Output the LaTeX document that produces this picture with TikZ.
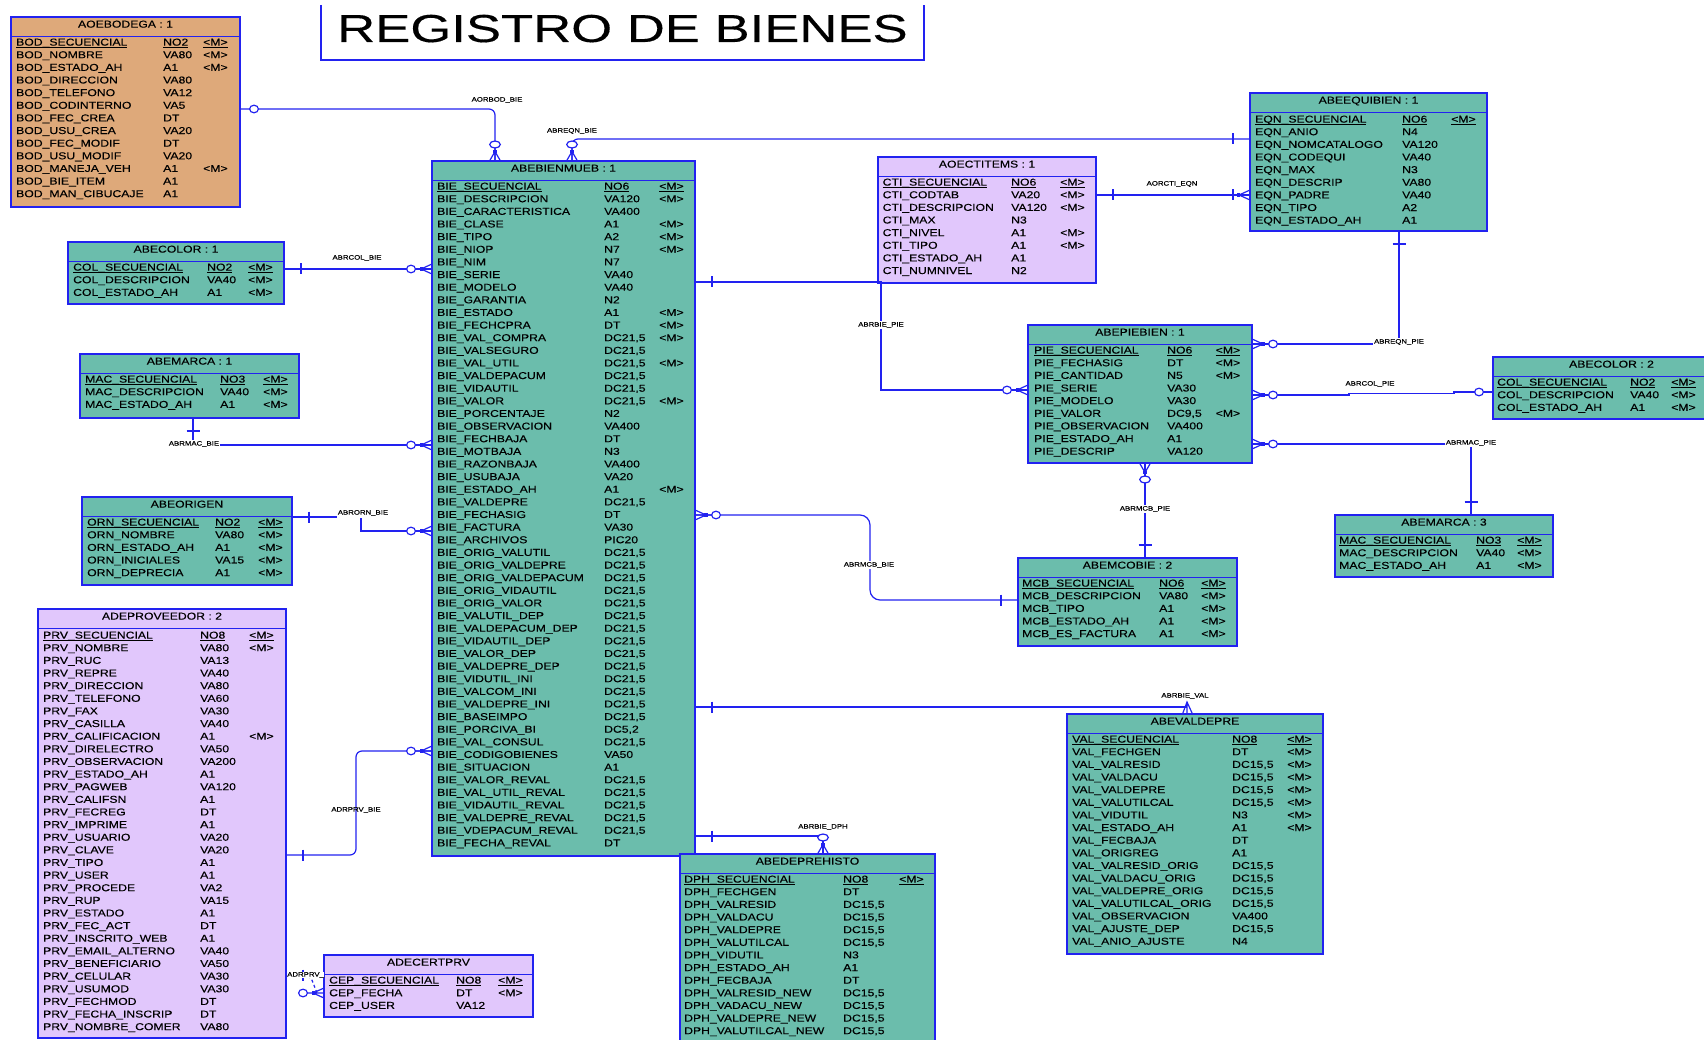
\documentclass[tikz,border=0pt]{standalone}
\usepackage{fontspec}
\usetikzlibrary{positioning}
\newfontfamily\erdfont[FakeStretch=1.22,FakeBold=0.2]{Liberation Sans}
\newfontfamily\bigfont[FakeStretch=1.35,FakeBold=0.3]{Liberation Sans}
\catcode`\_=12
\definecolor{tealbox}{HTML}{6BBDAC}
\definecolor{orangebox}{HTML}{DEA97A}
\definecolor{lilacbox}{HTML}{E1C7FC}
\definecolor{erdblue}{HTML}{2222F0}
\tikzset{
  entbox/.style={draw=erdblue,line width=1.5pt,inner sep=0pt,outer sep=0pt},
  tealfill/.style={fill=tealbox},
  orangefill/.style={fill=orangebox},
  lilacfill/.style={fill=lilacbox},
  relline/.style={draw=erdblue,line width=1.2pt,rounded corners=6pt},
  enttitle/.style={anchor=base,inner sep=0pt,text=black,font=\erdfont\fontsize{10}{12}\selectfont},
  fieldtxt/.style={anchor=base west,inner sep=0pt,text=black,font=\erdfont\fontsize{10}{12}\selectfont},
  rellabel/.style={fill=white,inner sep=1pt,text=black,font=\erdfont\fontsize{6.4}{7}\selectfont},
}
\newcommand{\mflag}{<M>}
\newcommand{\ulrow}[1]{\underline{\smash{#1}}}
% name, x1, y1, x2, y2, fill style, title
\newcommand{\ent}[7]{
  \node[entbox,#6,anchor=north west,minimum width={(#4-#2)*1pt},minimum height={(#5-#3)*1pt}] (#1) at (#2,#3) {};
  \draw[draw=erdblue,line width=1.3pt] (#2,{#3+19.7}) -- (#4,{#3+19.7});
  \node[enttitle] (#1t) at ({(#2+#4)/2},{#3+10.6}) {#7};
}
% name, x of field, x of type, x of flag, y of first row, rows
\newcommand{\fields}[6]{
  \foreach \fname/\ftype/\fflag [count=\i from 0] in {#6} {
    \node[fieldtxt] (#1\i a) at (#2,{#5+3.6+\i*12.63}) {\ifnum\i=0 \ulrow{\fname}\else\fname\fi};
    \node[fieldtxt] (#1\i b) at (#3,{#5+3.6+\i*12.63}) {\ifnum\i=0 \ulrow{\ftype}\else\ftype\fi};
    \ifx\fflag\empty\else
      \node[fieldtxt] (#1\i c) at (#4,{#5+3.6+\i*12.63}) {\ifnum\i=0 \ulrow{\fflag}\else\fflag\fi};
    \fi
  }
}
% crow's feet: point on the box edge, side (1 or -1)
\newcommand{\crowh}[2]{
  \begin{scope}[shift={(#1)},xscale=#2]
    \draw[relline,rounded corners=0pt] (0,-5) -- (11,0) -- (0,5) (0,0) -- (17,0);
    \fill[erdblue] (9,-1.6) rectangle (12.5,1.6);
    \draw[relline,fill=white] (21,0) ellipse [x radius=4.4pt,y radius=3.8pt];
  \end{scope}
}
\newcommand{\crowv}[2]{
  \begin{scope}[shift={(#1)},yscale=#2]
    \draw[relline,rounded corners=0pt] (-5.5,0) -- (0,9.5) -- (5.5,0) (0,0) -- (0,13);
    \fill[erdblue] (-1.6,7.5) rectangle (1.6,11);
    \draw[relline,fill=white] (0,16.5) ellipse [x radius=5.3pt,y radius=3.5pt];
  \end{scope}
}
\newcommand{\ringh}[2]{
  \begin{scope}[shift={(#1)},xscale=#2]
    \draw[relline,fill=white] (14,0) ellipse [x radius=4.4pt,y radius=3.8pt];
  \end{scope}
}
\newcommand{\barh}[2]{
  \begin{scope}[shift={(#1)},xscale=#2]
    \draw[relline] (17,-5.5) -- (17,5.5);
  \end{scope}
}
\newcommand{\barv}[2]{
  \begin{scope}[shift={(#1)},yscale=#2]
    \draw[relline] (-6.5,13) -- (6.5,13);
  \end{scope}
}
\begin{document}
\begin{tikzpicture}[x=1pt,y=-1pt]
\clip (0,0) rectangle (1704,1040);

\node[anchor=base west,inner sep=0pt,font=\bigfont\fontsize{39}{40}\selectfont] (titulo) at (337,42) {REGISTRO DE BIENES};
\coordinate (tl) at (321,5);
\coordinate (tr) at (924,5);
\draw[draw=erdblue,line width=1.2pt] (tl) -- (321,60) -- (924,60) -- (tr);

% tables
\ent{bod}{11}{17}{240}{207}{orangefill}{AOEBODEGA : 1}
\fields{bod}{16}{163}{203}{42}{BOD_SECUENCIAL/NO2/\mflag,BOD_NOMBRE/VA80/\mflag,BOD_ESTADO_AH/A1/\mflag,BOD_DIRECCION/VA80/,BOD_TELEFONO/VA12/,BOD_CODINTERNO/VA5/,BOD_FEC_CREA/DT/,BOD_USU_CREA/VA20/,BOD_FEC_MODIF/DT/,BOD_USU_MODIF/VA20/,BOD_MANEJA_VEH/A1/\mflag,BOD_BIE_ITEM/A1/,BOD_MAN_CIBUCAJE/A1/}

\ent{col}{68}{242}{284}{304}{tealfill}{ABECOLOR : 1}
\fields{col}{73}{207}{248}{267}{COL_SECUENCIAL/NO2/\mflag,COL_DESCRIPCION/VA40/\mflag,COL_ESTADO_AH/A1/\mflag}

\ent{mar}{80}{354}{299}{418}{tealfill}{ABEMARCA : 1}
\fields{mar}{85}{220}{263}{379}{MAC_SECUENCIAL/NO3/\mflag,MAC_DESCRIPCION/VA40/\mflag,MAC_ESTADO_AH/A1/\mflag}

\ent{ori}{82}{497}{292}{585}{tealfill}{ABEORIGEN}
\fields{ori}{87}{215}{258}{522}{ORN_SECUENCIAL/NO2/\mflag,ORN_NOMBRE/VA80/\mflag,ORN_ESTADO_AH/A1/\mflag,ORN_INICIALES/VA15/\mflag,ORN_DEPRECIA/A1/\mflag}

\ent{prv}{38}{609}{286}{1038}{lilacfill}{ADEPROVEEDOR : 2}
\fields{prv}{43}{200}{249}{635}{PRV_SECUENCIAL/NO8/\mflag,PRV_NOMBRE/VA80/\mflag,PRV_RUC/VA13/,PRV_REPRE/VA40/,PRV_DIRECCION/VA80/,PRV_TELEFONO/VA60/,PRV_FAX/VA30/,PRV_CASILLA/VA40/,PRV_CALIFICACION/A1/\mflag,PRV_DIRELECTRO/VA50/,PRV_OBSERVACION/VA200/,PRV_ESTADO_AH/A1/,PRV_PAGWEB/VA120/,PRV_CALIFSN/A1/,PRV_FECREG/DT/,PRV_IMPRIME/A1/,PRV_USUARIO/VA20/,PRV_CLAVE/VA20/,PRV_TIPO/A1/,PRV_USER/A1/,PRV_PROCEDE/VA2/,PRV_RUP/VA15/,PRV_ESTADO/A1/,PRV_FEC_ACT/DT/,PRV_INSCRITO_WEB/A1/,PRV_EMAIL_ALTERNO/VA40/,PRV_BENEFICIARIO/VA50/,PRV_CELULAR/VA30/,PRV_USUMOD/VA30/,PRV_FECHMOD/DT/,PRV_FECHA_INSCRIP/DT/,PRV_NOMBRE_COMER/VA80/}

\ent{cep}{324}{955}{533}{1017}{lilacfill}{ADECERTPRV}
\fields{cep}{329}{456}{498}{980}{CEP_SECUENCIAL/NO8/\mflag,CEP_FECHA/DT/\mflag,CEP_USER/VA12/}

\ent{bien}{432}{161}{695}{856}{tealfill}{ABEBIENMUEB : 1}
\fields{bien}{437}{604}{659}{186}{BIE_SECUENCIAL/NO6/\mflag,BIE_DESCRIPCION/VA120/\mflag,BIE_CARACTERISTICA/VA400/,BIE_CLASE/A1/\mflag,BIE_TIPO/A2/\mflag,BIE_NIOP/N7/\mflag,BIE_NIM/N7/,BIE_SERIE/VA40/,BIE_MODELO/VA40/,BIE_GARANTIA/N2/,BIE_ESTADO/A1/\mflag,BIE_FECHCPRA/DT/\mflag,BIE_VAL_COMPRA/DC21{,}5/\mflag,BIE_VALSEGURO/DC21{,}5/,BIE_VAL_UTIL/DC21{,}5/\mflag,BIE_VALDEPACUM/DC21{,}5/,BIE_VIDAUTIL/DC21{,}5/,BIE_VALOR/DC21{,}5/\mflag,BIE_PORCENTAJE/N2/,BIE_OBSERVACION/VA400/,BIE_FECHBAJA/DT/,BIE_MOTBAJA/N3/,BIE_RAZONBAJA/VA400/,BIE_USUBAJA/VA20/,BIE_ESTADO_AH/A1/\mflag,BIE_VALDEPRE/DC21{,}5/,BIE_FECHASIG/DT/,BIE_FACTURA/VA30/,BIE_ARCHIVOS/PIC20/,BIE_ORIG_VALUTIL/DC21{,}5/,BIE_ORIG_VALDEPRE/DC21{,}5/,BIE_ORIG_VALDEPACUM/DC21{,}5/,BIE_ORIG_VIDAUTIL/DC21{,}5/,BIE_ORIG_VALOR/DC21{,}5/,BIE_VALUTIL_DEP/DC21{,}5/,BIE_VALDEPACUM_DEP/DC21{,}5/,BIE_VIDAUTIL_DEP/DC21{,}5/,BIE_VALOR_DEP/DC21{,}5/,BIE_VALDEPRE_DEP/DC21{,}5/,BIE_VIDUTIL_INI/DC21{,}5/,BIE_VALCOM_INI/DC21{,}5/,BIE_VALDEPRE_INI/DC21{,}5/,BIE_BASEIMPO/DC21{,}5/,BIE_PORCIVA_BI/DC5{,}2/,BIE_VAL_CONSUL/DC21{,}5/,BIE_CODIGOBIENES/VA50/,BIE_SITUACION/A1/,BIE_VALOR_REVAL/DC21{,}5/,BIE_VAL_UTIL_REVAL/DC21{,}5/,BIE_VIDAUTIL_REVAL/DC21{,}5/,BIE_VALDEPRE_REVAL/DC21{,}5/,BIE_VDEPACUM_REVAL/DC21{,}5/,BIE_FECHA_REVAL/DT/}

\ent{cti}{878}{157}{1096}{283}{lilacfill}{AOECTITEMS : 1}
\fields{cti}{882.5}{1011}{1060}{182}{CTI_SECUENCIAL/NO6/\mflag,CTI_CODTAB/VA20/\mflag,CTI_DESCRIPCION/VA120/\mflag,CTI_MAX/N3/,CTI_NIVEL/A1/\mflag,CTI_TIPO/A1/\mflag,CTI_ESTADO_AH/A1/,CTI_NUMNIVEL/N2/}

\ent{eqn}{1250}{93}{1487}{231}{tealfill}{ABEEQUIBIEN : 1}
\fields{eqn}{1255}{1402}{1451}{119}{EQN_SECUENCIAL/NO6/\mflag,EQN_ANIO/N4/,EQN_NOMCATALOGO/VA120/,EQN_CODEQUI/VA40/,EQN_MAX/N3/,EQN_DESCRIP/VA80/,EQN_PADRE/VA40/,EQN_TIPO/A2/,EQN_ESTADO_AH/A1/}

\ent{pie}{1028}{325}{1252}{463}{tealfill}{ABEPIEBIEN : 1}
\fields{pie}{1034}{1167}{1215.5}{350}{PIE_SECUENCIAL/NO6/\mflag,PIE_FECHASIG/DT/\mflag,PIE_CANTIDAD/N5/\mflag,PIE_SERIE/VA30/,PIE_MODELO/VA30/,PIE_VALOR/DC9{,}5/\mflag,PIE_OBSERVACION/VA400/,PIE_ESTADO_AH/A1/,PIE_DESCRIP/VA120/}

\ent{colb}{1493}{357}{1730}{419}{tealfill}{ABECOLOR : 2}
\fields{colb}{1497}{1630}{1671}{382}{COL_SECUENCIAL/NO2/\mflag,COL_DESCRIPCION/VA40/\mflag,COL_ESTADO_AH/A1/\mflag}

\ent{marb}{1335}{515}{1553}{577}{tealfill}{ABEMARCA : 3}
\fields{marb}{1339}{1476}{1517}{540}{MAC_SECUENCIAL/NO3/\mflag,MAC_DESCRIPCION/VA40/\mflag,MAC_ESTADO_AH/A1/\mflag}

\ent{mcb}{1018}{558}{1237}{646}{tealfill}{ABEMCOBIE : 2}
\fields{mcb}{1022}{1159}{1201}{583}{MCB_SECUENCIAL/NO6/\mflag,MCB_DESCRIPCION/VA80/\mflag,MCB_TIPO/A1/\mflag,MCB_ESTADO_AH/A1/\mflag,MCB_ES_FACTURA/A1/\mflag}

\ent{val}{1067}{714}{1323}{954}{tealfill}{ABEVALDEPRE}
\fields{val}{1072}{1232}{1287}{739}{VAL_SECUENCIAL/NO8/\mflag,VAL_FECHGEN/DT/\mflag,VAL_VALRESID/DC15{,}5/\mflag,VAL_VALDACU/DC15{,}5/\mflag,VAL_VALDEPRE/DC15{,}5/\mflag,VAL_VALUTILCAL/DC15{,}5/\mflag,VAL_VIDUTIL/N3/\mflag,VAL_ESTADO_AH/A1/\mflag,VAL_FECBAJA/DT/,VAL_ORIGREG/A1/,VAL_VALRESID_ORIG/DC15{,}5/,VAL_VALDACU_ORIG/DC15{,}5/,VAL_VALDEPRE_ORIG/DC15{,}5/,VAL_VALUTILCAL_ORIG/DC15{,}5/,VAL_OBSERVACION/VA400/,VAL_AJUSTE_DEP/DC15{,}5/,VAL_ANIO_AJUSTE/N4/}

\ent{dph}{680}{854}{935}{1060}{tealfill}{ABEDEPREHISTO}
\fields{dph}{684}{843}{899}{879}{DPH_SECUENCIAL/NO8/\mflag,DPH_FECHGEN/DT/,DPH_VALRESID/DC15{,}5/,DPH_VALDACU/DC15{,}5/,DPH_VALDEPRE/DC15{,}5/,DPH_VALUTILCAL/DC15{,}5/,DPH_VIDUTIL/N3/,DPH_ESTADO_AH/A1/,DPH_FECBAJA/DT/,DPH_VALRESID_NEW/DC15{,}5/,DPH_VADACU_NEW/DC15{,}5/,DPH_VALDEPRE_NEW/DC15{,}5/,DPH_VALUTILCAL_NEW/DC15{,}5/}

% connector elbows
\coordinate (cbod) at (495,109);
\coordinate (ceqn) at (572,139);
\coordinate (ccol) at (400,269);
\coordinate (cmac) at (193,445);
\coordinate (corn) at (361,517);
\coordinate (corb) at (361,531);
\coordinate (cprva) at (356,855);
\coordinate (cprvb) at (356,751);
\coordinate (ccep) at (310,975);
\coordinate (ccepb) at (317,993);
\coordinate (ccti) at (1170,195);
\coordinate (cpie) at (881,282);
\coordinate (cpib) at (881,390);
\coordinate (cepi) at (1399,344);
\coordinate (ccoa) at (1349,395);
\coordinate (ccob) at (1349,393.5);
\coordinate (ccoc) at (1454,393.5);
\coordinate (ccod) at (1454,392);
\coordinate (cmap) at (1471,444);
\coordinate (cmcp) at (1145,500);
\coordinate (cmca) at (870,515);
\coordinate (cmcb) at (870,600);
\coordinate (cval) at (1187,707);
\coordinate (cdph) at (823,836);

% relations
\draw[relline] (bod.east |- cbod) -- (cbod) -- (bien.north -| cbod);
\draw[relline] (bien.north -| ceqn) -- (ceqn) -- (eqn.west |- ceqn);
\draw[relline] (col.east |- ccol) -- (bien.west |- ccol);
\draw[relline,rounded corners=0pt] (mar.south -| cmac) -- (cmac) -- (bien.west |- cmac);
\draw[relline,rounded corners=0pt] (ori.east |- corn) -- (corn) -- (corb) -- (bien.west |- corb);
\draw[relline] (prv.east |- cprva) -- (cprva) -- (cprvb) -- (bien.west |- cprvb);
\draw[relline,dash pattern=on 3pt off 2.5pt] (prv.east |- ccep) -- (ccep) -- (ccepb);
\draw[relline] (cti.east |- ccti) -- (eqn.west |- ccti);
\draw[relline,rounded corners=0pt] (bien.east |- cpie) -- (cpie) -- (cpib) -- (pie.west |- cpib);
\draw[relline,rounded corners=0pt] (eqn.south -| cepi) -- (cepi) -- (pie.east |- cepi);
\draw[relline,rounded corners=0pt] (pie.east |- ccoa) -- (ccoa) -- (ccob) -- (ccoc) -- (ccod) -- (colb.west |- ccod);
\draw[relline,rounded corners=0pt] (pie.east |- cmap) -- (cmap) -- (marb.north -| cmap);
\draw[relline] (pie.south -| cmcp) -- (mcb.north -| cmcp);
\draw[relline,rounded corners=10pt] (bien.east |- cmca) -- (cmca) -- (cmcb) -- (mcb.west |- cmcb);
\draw[relline,rounded corners=0pt] (bien.east |- cval) -- (cval);
\draw[relline,rounded corners=0pt] (bien.east |- cdph) -- (cdph) -- (cdph |- dph.north);

% ends of the relations
\ringh{bod.east |- cbod}{1}
\crowv{bien.north -| cbod}{-1}
\crowv{bien.north -| ceqn}{-1}
\barh{eqn.west |- ceqn}{-1}
\barh{col.east |- ccol}{1}
\crowh{bien.west |- ccol}{-1}
\barv{mar.south -| cmac}{1}
\crowh{bien.west |- cmac}{-1}
\barh{ori.east |- corn}{1}
\crowh{bien.west |- corb}{-1}
\barh{prv.east |- cprva}{1}
\crowh{bien.west |- cprvb}{-1}
\barh{prv.east |- ccep}{1}
\crowh{cep.west |- ccepb}{-1}
\barh{cti.east |- ccti}{1}
\barh{eqn.west |- ccti}{-1}
\draw[relline,rounded corners=0pt] (eqn.west |- ccti) ++(0,-5) -- ++(-11,5) -- ++(11,5);
\fill[erdblue] (1236.5,193.4) rectangle (1240,196.6);
\barh{bien.east |- cpie}{1}
\crowh{pie.west |- cpib}{-1}
\barv{eqn.south -| cepi}{1}
\crowh{pie.east |- cepi}{1}
\crowh{pie.east |- ccoa}{1}
\ringh{colb.west |- ccod}{-1}
\crowh{pie.east |- cmap}{1}
\barv{marb.north -| cmap}{-1}
\crowv{pie.south -| cmcp}{1}
\barv{mcb.north -| cmcp}{-1}
\crowh{bien.east |- cmca}{1}
\barh{mcb.west |- cmcb}{-1}
\barh{bien.east |- cval}{1}
\draw[relline,rounded corners=0pt] (val.north -| cval) ++(-4.5,0) -- ++(4.5,-12) -- ++(5.5,12) (val.north -| cval) -- ++(0,-12);
\barh{bien.east |- cdph}{1}
\crowv{dph.north -| cdph}{-1}

% relation names
\node[rellabel] (lbod) at (497,100) {AORBOD_BIE};
\node[rellabel] (leqn) at (572,131) {ABREQN_BIE};
\node[rellabel] (lcol) at (357,258) {ABRCOL_BIE};
\node[rellabel] (lmac) at (194,444) {ABRMAC_BIE};
\node[rellabel,minimum height=10.5pt] (lorn) at (363,513) {ABRORN_BIE};
\node[rellabel,fill=none] (lprv) at (356,810) {ADRPRV_BIE};
\node[rellabel,anchor=west,inner sep=0pt] (lcep) at (287,975) {ADRPRV_};
\node[rellabel] (lcti) at (1172,184) {AORCTI_EQN};
\node[rellabel] (lpie) at (881,325) {ABRBIE_PIE};
\node[rellabel] (lepi) at (1399,342) {ABREQN_PIE};
\node[rellabel] (lcop) at (1370,384) {ABRCOL_PIE};
\node[rellabel] (lmap) at (1471,443) {ABRMAC_PIE};
\node[rellabel] (lmcp) at (1145,509) {ABRMCB_PIE};
\node[rellabel] (lmcb) at (869,565) {ABRMCB_BIE};
\node[rellabel] (lval) at (1185,696) {ABRBIE_VAL};
\node[rellabel] (ldph) at (823,827) {ABRBIE_DPH};
\end{tikzpicture}
\end{document}
